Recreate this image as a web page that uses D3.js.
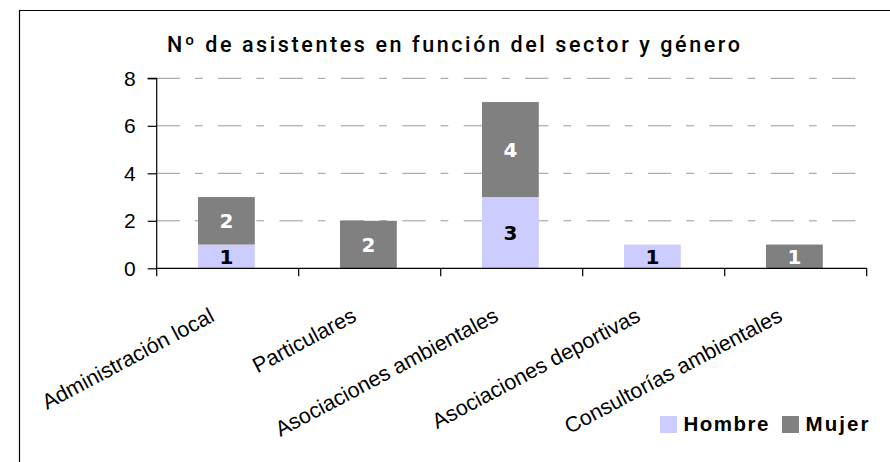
<!DOCTYPE html>
<html>
<head>
<meta charset="utf-8">
<script src="https://cdn.jsdelivr.net/npm/d3@7"></script>
<style>
  body { margin: 0; background: #fff; }
  svg { display: block; }
</style>
</head>
<body>
<div class="chart"></div>
<script>
// data
var categories = ["Administración local", "Particulares", "Asociaciones ambientales",
  "Asociaciones deportivas", "Consultorías ambientales"];
var hombre = [1, 0, 3, 1, 0];
var mujer = [2, 2, 4, 0, 1];
var seriesNames = ["Hombre", "Mujer"];
var yTicks = [0, 2, 4, 6, 8];
var title = "Nº de asistentes en función del sector y género";

var width = 890, height = 462;
var colors = { Hombre: "#ccccff", Mujer: "#808080" };
var labelColors = { Hombre: "#000", Mujer: "#fff" };

var svg = d3.select(".chart").append("svg")
  .attr("width", width)
  .attr("height", height);

svg.append("rect").attr("width", width).attr("height", height).attr("fill", "#fff");

// outer frame (only top and left visible)
svg.append("path")
  .attr("d", "M19.5," + height + "V10.5H" + width)
  .attr("fill", "none")
  .attr("stroke", "#000")
  .attr("stroke-width", 1.2);

var x = d3.scaleBand()
  .domain(categories)
  .range([156.7, 866.7])
  .paddingInner(0.6)
  .paddingOuter(0.3);

var y = d3.scaleLinear()
  .domain([0, 8])
  .range([268.3, 78.3]);

var rows = categories.map(function (c, i) {
  return { cat: c, Hombre: hombre[i], Mujer: mujer[i] };
});
var stacked = d3.stack().keys(seriesNames)(rows);

// title
svg.append("text")
  .attr("x", 167)
  .attr("y", 52)
  .attr("textLength", 573)
  .attr("lengthAdjust", "spacing")
  .style("font-family", "Roboto, 'Liberation Sans', Arial, sans-serif")
  .style("font-weight", 500)
  .style("font-size", "21.5px")
  .attr("fill", "#000")
  .text(title);

// gridlines
svg.append("g")
  .selectAll("line")
  .data(yTicks.filter(function (d) { return d > 0; }))
  .enter().append("line")
  .attr("x1", x.range()[0])
  .attr("x2", x.range()[1])
  .attr("y1", function (d) { return y(d); })
  .attr("y2", function (d) { return y(d); })
  .attr("stroke", "#999")
  .attr("stroke-width", 1)
  .attr("stroke-dasharray", "23.3,15,7.7,15.4");

// bars
var layer = svg.append("g").selectAll("g.layer")
  .data(stacked)
  .enter().append("g")
  .attr("class", "layer")
  .attr("fill", function (d) { return colors[d.key]; });

layer.selectAll("rect")
  .data(function (d) { return d; })
  .enter().append("rect")
  .attr("x", function (d) { return x(d.data.cat) - 1.3; })
  .attr("width", x.bandwidth())
  .attr("y", function (d) { return y(d[1]); })
  .attr("height", function (d) { return y(d[0]) - y(d[1]); });

// value labels
stacked.forEach(function (s) {
  svg.append("g").selectAll("text")
    .data(s.filter(function (d) { return d[1] - d[0] > 0; }))
    .enter().append("text")
    .attr("x", function (d) { return x(d.data.cat) - 1.3 + x.bandwidth() / 2; })
    .attr("y", function (d) { return (y(d[0]) + y(d[1])) / 2; })
    .attr("dy", "0.36em")
    .attr("text-anchor", "middle")
    .style("font-family", "'DejaVu Sans', Verdana, sans-serif")
    .style("font-weight", "bold")
    .style("font-size", "20px")
    .attr("fill", labelColors[s.key])
    .text(function (d) { return d[1] - d[0]; });
});

// y axis
var yAxis = svg.append("g")
  .attr("transform", "translate(" + x.range()[0] + ",0)")
  .call(d3.axisLeft(y).tickValues(yTicks).tickSize(9).tickPadding(12).tickFormat(d3.format("d")));
yAxis.selectAll("line, path").attr("stroke", "#000").attr("stroke-width", 1.2);
yAxis.select(".domain").attr("d", "M-9," + y(8) + "H0V" + y(0));
yAxis.selectAll("text")
  .style("font-family", "'Liberation Sans', Arial, sans-serif")
  .style("font-size", "21px")
  .attr("fill", "#000");

// x axis
var xAxis = svg.append("g")
  .attr("transform", "translate(0," + y(0) + ")");
xAxis.append("line")
  .attr("x1", x.range()[0]).attr("x2", x.range()[1])
  .attr("stroke", "#000").attr("stroke-width", 1.2);

var gap = (x.step() - x.bandwidth()) / 2;
var bounds = categories.map(function (c) { return x(c) - gap; }).concat([x.range()[1]]);
xAxis.selectAll("line.tick")
  .data(bounds)
  .enter().append("line")
  .attr("class", "tick")
  .attr("x1", function (d) { return d; })
  .attr("x2", function (d) { return d; })
  .attr("y1", 0).attr("y2", 8)
  .attr("stroke", "#000").attr("stroke-width", 1.2);

xAxis.selectAll("text")
  .data(categories)
  .enter().append("text")
  .attr("text-anchor", "end")
  .attr("transform", function (d) {
    return "translate(" + (x(d) + x.bandwidth() / 2 - 12) + ",52) rotate(-28)";
  })
  .style("font-family", "'Liberation Sans', Arial, sans-serif")
  .style("font-size", "21.5px")
  .attr("fill", "#000")
  .text(function (d) { return d; });

// legend
var legendItems = [
  { name: "Hombre", x: 660, len: 85 },
  { name: "Mujer", x: 782, len: 63 }
];
var legend = svg.append("g").selectAll("g")
  .data(legendItems)
  .enter().append("g")
  .attr("transform", function (d) { return "translate(" + d.x + ",416)"; });
legend.append("rect")
  .attr("width", 17).attr("height", 17)
  .attr("fill", function (d) { return colors[d.name]; });
legend.append("text")
  .attr("x", 23.5)
  .attr("y", 14.8)
  .attr("textLength", function (d) { return d.len; })
  .attr("lengthAdjust", "spacing")
  .style("font-family", "'Liberation Sans', Arial, sans-serif")
  .style("font-weight", "bold")
  .style("font-size", "20.5px")
  .attr("fill", "#000")
  .text(function (d) { return d.name; });
</script>
</body>
</html>
